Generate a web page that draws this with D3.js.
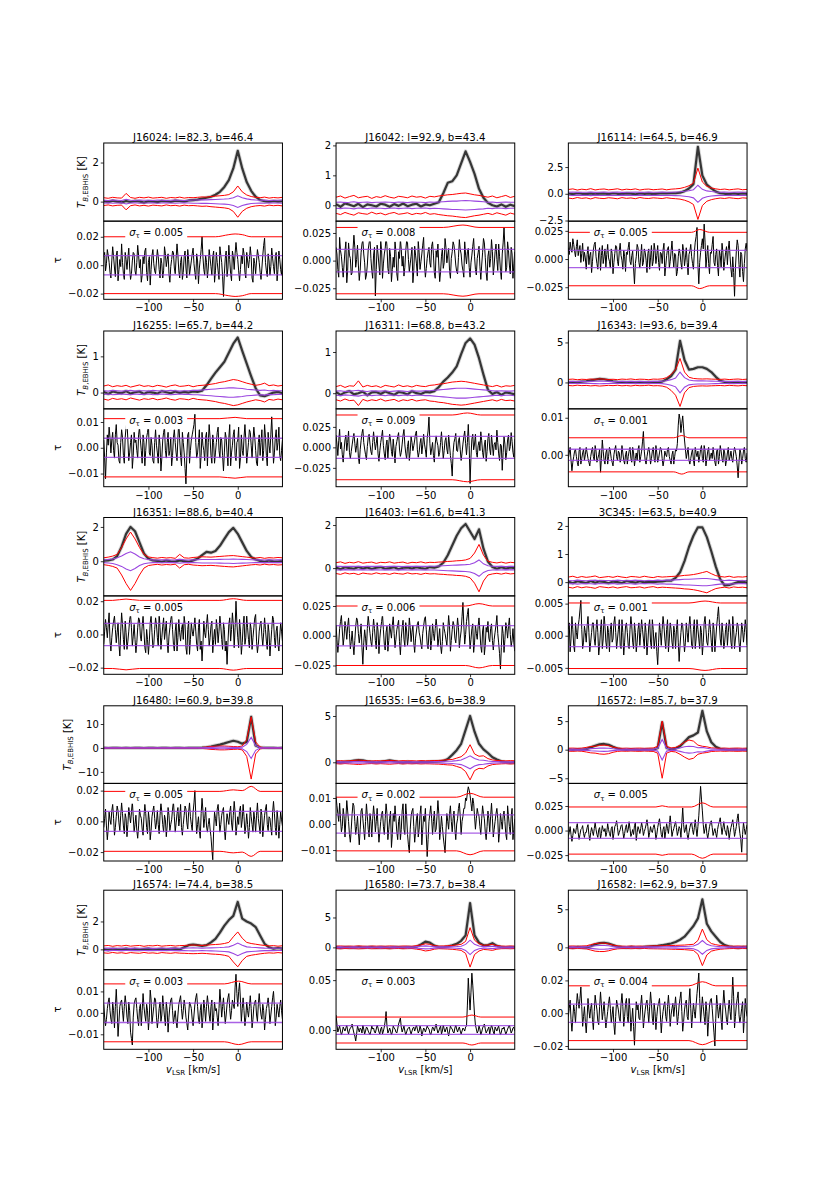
<!DOCTYPE html>
<html>
<head>
<meta charset="utf-8">
<script src="https://cdnjs.cloudflare.com/ajax/libs/d3/7.8.5/d3.min.js"></script>
<style>
body { margin: 0; background: #fff; }
svg text { font-family: "DejaVu Sans", sans-serif; white-space: pre; }
</style>
</head>
<body>
<svg width="830" height="1199"></svg>
<script>
// ---- sources ----
var names = ["J16024","J16042","J16114","J16255","J16311","J16343","J16351","J16403","3C345",
             "J16480","J16535","J16572","J16574","J16580","J16582"];
var glon = [82.3,92.9,64.5,65.7,68.8,93.6,88.6,61.6,63.5,60.9,63.6,85.7,74.4,73.7,62.9];
var glat = [46.4,43.4,46.9,44.2,43.2,39.4,40.4,41.3,40.9,39.8,38.9,37.9,38.5,38.4,37.9];
var sigmaTau = [0.005,0.008,0.005,0.003,0.009,0.001,0.005,0.006,0.001,0.005,0.002,0.005,0.003,0.003,0.004];

// ---- EBHIS emission, channels -150..50 km/s every 5 km/s (K) ----
var tbEmis = [
 [0.02,-0.03,0.05,0.00,-0.04,0.03,-0.02,0.04,0.01,-0.05,0.02,0.00,-0.03,0.04,0.02,-0.02,0.05,0.03,0.00,0.06,0.08,0.10,0.15,0.20,0.25,0.35,0.50,0.75,1.10,1.70,2.60,1.70,1.00,0.55,0.25,0.08,0.02,-0.02,0.03,0.00,0.02],
 [0.04,-0.05,0.06,0.02,-0.03,0.05,-0.06,0.03,0.00,-0.04,0.05,0.02,-0.05,0.04,-0.02,0.06,-0.03,0.02,0.05,-0.04,0.03,0.00,0.05,0.10,0.40,0.75,0.80,1.00,1.40,1.80,1.45,1.05,0.55,0.25,0.08,0.00,-0.04,0.03,-0.05,0.02,-0.03],
 [0.03,-0.04,0.05,0.00,-0.03,0.04,-0.05,0.02,0.03,-0.04,0.05,0.00,-0.03,0.04,0.02,-0.05,0.03,0.00,0.04,-0.03,0.02,0.05,0.03,0.06,0.05,0.10,0.25,0.50,0.90,4.40,1.70,0.85,0.50,0.20,0.05,0.00,-0.04,0.03,-0.02,0.04,0.00],
 [0.02,-0.04,0.03,0.00,-0.02,0.04,-0.03,0.01,0.03,-0.04,0.02,0.00,-0.03,0.04,0.01,-0.02,0.03,-0.01,0.02,0.00,0.03,0.02,0.05,0.20,0.38,0.55,0.70,0.85,1.10,1.35,1.52,1.15,0.80,0.45,0.12,-0.08,-0.10,-0.05,0.00,0.02,-0.02],
 [0.03,-0.04,0.02,0.05,-0.03,0.00,0.04,-0.05,0.02,0.03,-0.02,0.04,0.00,-0.04,0.03,0.01,-0.03,0.05,0.00,-0.02,0.03,0.02,0.05,0.15,0.28,0.38,0.50,0.65,0.95,1.22,1.33,1.18,0.85,0.45,0.08,-0.02,0.03,-0.04,0.02,0.00,-0.03],
 [0.05,0.02,0.05,0.10,0.15,0.25,0.35,0.45,0.40,0.30,0.15,0.08,0.05,0.02,0.04,-0.02,0.03,0.00,0.05,0.02,0.04,0.10,0.40,0.80,1.60,5.20,2.80,1.60,1.70,1.90,1.90,1.70,1.30,0.70,0.20,0.05,0.02,-0.03,0.04,0.00,0.03],
 [0.03,0.05,0.10,0.30,0.85,1.60,2.00,1.75,1.10,0.45,0.15,0.05,0.02,-0.03,0.04,0.00,-0.02,0.05,0.01,-0.04,0.05,0.15,0.35,0.55,0.50,0.60,0.90,1.30,1.70,1.95,1.60,1.10,0.60,0.25,0.10,0.02,-0.03,0.04,0.00,-0.02,0.03],
 [0.03,-0.05,0.04,0.00,-0.03,0.05,-0.02,0.03,-0.04,0.02,0.05,-0.03,0.00,0.04,-0.05,0.02,0.03,-0.02,0.04,0.00,-0.03,0.05,0.02,0.08,0.25,0.60,1.05,1.50,1.85,2.05,1.70,1.35,1.80,0.90,0.30,0.05,-0.03,0.04,-0.02,0.03,0.00],
 [0.02,-0.04,0.03,0.00,-0.03,0.04,-0.02,0.03,0.01,-0.04,0.02,0.00,-0.03,0.04,0.01,-0.02,0.03,-0.01,0.02,0.00,0.02,0.03,0.05,0.05,0.15,0.35,0.75,1.25,1.65,1.95,1.95,1.60,1.10,0.55,0.10,-0.12,-0.10,-0.05,0.00,0.02,-0.02],
 [0.02,-0.02,0.01,0.00,-0.01,0.02,-0.02,0.01,0.00,-0.01,0.02,0.00,-0.02,0.01,0.02,-0.01,0.00,0.02,-0.01,0.01,0.02,0.00,0.10,0.30,0.60,1.00,1.40,1.90,2.50,3.00,2.60,1.80,2.50,13.0,1.00,0.20,0.05,0.00,0.02,-0.01,0.01],
 [0.05,-0.03,0.06,0.10,0.18,0.25,0.20,0.10,0.04,-0.02,0.05,0.12,0.20,0.12,0.03,-0.04,0.05,0.00,-0.03,0.04,0.02,0.05,0.08,0.10,0.15,0.35,0.80,1.30,2.00,3.50,5.00,3.30,2.00,1.40,1.00,0.55,0.30,0.10,0.03,-0.04,0.02],
 [0.03,-0.04,0.05,0.02,0.10,0.40,0.70,0.95,1.00,0.85,0.50,0.20,0.05,-0.03,0.04,0.00,-0.04,0.05,0.02,0.00,0.30,4.80,0.30,0.10,0.20,0.60,1.40,2.20,2.50,3.00,6.80,3.20,1.30,0.50,0.15,0.05,-0.03,0.04,0.00,-0.02,0.03],
 [0.03,-0.05,0.04,0.00,-0.03,0.05,-0.02,0.03,-0.04,0.02,0.05,-0.03,0.00,0.04,-0.02,0.03,0.05,-0.01,0.15,0.30,0.35,0.30,0.25,0.30,0.50,0.75,1.20,1.70,2.10,2.40,3.40,2.20,2.00,1.85,1.60,1.00,0.40,0.15,0.05,0.10,0.05],
 [0.05,-0.08,0.06,0.00,-0.05,0.07,-0.04,0.03,0.06,-0.07,0.04,0.00,-0.06,0.05,0.02,-0.04,0.06,0.00,0.10,0.50,0.95,0.80,0.30,0.05,0.02,0.15,0.35,0.60,1.10,2.00,7.40,2.00,0.80,0.35,0.40,0.70,0.25,0.05,-0.04,0.06,0.00],
 [0.04,-0.06,0.05,0.00,-0.04,0.15,0.40,0.55,0.60,0.50,0.30,0.10,0.02,-0.04,0.05,0.00,-0.03,0.06,0.10,0.15,0.20,0.28,0.38,0.50,0.70,1.00,1.40,2.10,2.80,3.80,6.30,3.10,2.10,1.40,0.70,0.30,0.10,0.03,-0.04,0.05,0.00]
];

// red (wide) and purple (narrow) envelope half widths, same channels (K)
var tbRed = [
 [0.20,0.17,0.22,0.19,0.18,0.42,0.21,0.17,0.22,0.19,0.23,0.18,0.20,0.22,0.17,0.21,0.19,0.23,0.18,0.21,0.20,0.22,0.24,0.23,0.26,0.28,0.30,0.32,0.36,0.50,0.80,0.50,0.34,0.26,0.22,0.20,0.23,0.18,0.21,0.19,0.22],
 [0.27,0.31,0.24,0.29,0.33,0.25,0.28,0.30,0.23,0.29,0.26,0.32,0.27,0.24,0.30,0.28,0.25,0.31,0.27,0.29,0.24,0.30,0.28,0.31,0.33,0.35,0.36,0.38,0.40,0.41,0.38,0.35,0.33,0.30,0.27,0.31,0.25,0.29,0.33,0.26,0.30],
 [0.40,0.46,0.35,0.43,0.38,0.48,0.36,0.42,0.45,0.37,0.41,0.47,0.36,0.43,0.39,0.46,0.35,0.42,0.44,0.38,0.41,0.45,0.37,0.43,0.46,0.50,0.60,0.75,1.00,2.40,1.10,0.70,0.55,0.46,0.40,0.44,0.37,0.42,0.46,0.38,0.41],
 [0.18,0.21,0.16,0.19,0.17,0.20,0.15,0.18,0.21,0.17,0.19,0.16,0.20,0.18,0.15,0.19,0.21,0.17,0.18,0.20,0.16,0.19,0.20,0.21,0.23,0.25,0.28,0.30,0.33,0.36,0.34,0.30,0.26,0.23,0.20,0.22,0.26,0.19,0.21,0.18,0.20],
 [0.16,0.19,0.14,0.18,0.17,0.30,0.15,0.19,0.16,0.18,0.14,0.19,0.17,0.15,0.20,0.16,0.18,0.15,0.19,0.17,0.16,0.19,0.20,0.22,0.23,0.25,0.27,0.28,0.29,0.28,0.26,0.24,0.22,0.20,0.18,0.16,0.19,0.15,0.18,0.17,0.19],
 [0.38,0.42,0.34,0.40,0.37,0.43,0.39,0.45,0.41,0.36,0.40,0.35,0.42,0.38,0.44,0.36,0.41,0.39,0.34,0.42,0.40,0.45,0.60,1.00,1.60,3.00,1.30,0.65,0.50,0.45,0.43,0.45,0.42,0.40,0.38,0.42,0.36,0.40,0.43,0.37,0.41],
 [0.20,0.24,0.30,0.40,0.80,1.30,1.70,1.30,0.80,0.40,0.25,0.21,0.18,0.22,0.19,0.21,0.17,0.40,0.20,0.18,0.22,0.24,0.26,0.25,0.24,0.26,0.28,0.30,0.32,0.33,0.30,0.27,0.24,0.21,0.19,0.22,0.17,0.21,0.19,0.22,0.20],
 [0.25,0.29,0.22,0.27,0.24,0.30,0.23,0.26,0.28,0.22,0.27,0.25,0.29,0.23,0.26,0.28,0.22,0.27,0.25,0.29,0.24,0.27,0.26,0.28,0.29,0.31,0.32,0.34,0.35,0.38,0.45,0.70,1.10,0.60,0.32,0.27,0.24,0.28,0.23,0.27,0.25],
 [0.18,0.21,0.16,0.20,0.17,0.19,0.22,0.16,0.18,0.20,0.17,0.21,0.18,0.16,0.20,0.19,0.17,0.21,0.18,0.16,0.20,0.18,0.19,0.20,0.21,0.22,0.24,0.25,0.27,0.30,0.34,0.38,0.30,0.23,0.20,0.18,0.21,0.17,0.19,0.18,0.20],
 [0.05,0.06,0.04,0.05,0.06,0.05,0.04,0.06,0.05,0.05,0.06,0.04,0.05,0.06,0.05,0.04,0.06,0.05,0.05,0.06,0.08,0.10,0.20,0.40,0.60,0.70,0.80,0.80,0.70,0.60,0.50,0.80,3.50,13.0,2.50,0.40,0.10,0.06,0.05,0.06,0.05],
 [0.15,0.18,0.14,0.17,0.20,0.24,0.20,0.16,0.14,0.18,0.15,0.18,0.21,0.17,0.14,0.18,0.15,0.17,0.14,0.18,0.16,0.17,0.19,0.20,0.24,0.28,0.30,0.45,0.60,1.00,1.90,0.90,0.65,0.70,0.40,0.25,0.20,0.17,0.15,0.18,0.16],
 [0.25,0.28,0.23,0.27,0.40,0.55,0.60,0.75,0.80,0.70,0.45,0.30,0.24,0.27,0.22,0.26,0.28,0.23,0.27,0.30,0.60,5.00,0.60,0.30,0.40,0.80,1.30,1.70,1.50,0.80,0.60,0.50,0.32,0.27,0.24,0.28,0.23,0.26,0.28,0.24,0.27],
 [0.25,0.28,0.22,0.27,0.24,0.29,0.23,0.26,0.28,0.22,0.27,0.25,0.29,0.23,0.26,0.28,0.24,0.27,0.28,0.30,0.31,0.30,0.28,0.30,0.33,0.35,0.37,0.42,0.50,0.90,1.25,0.80,0.50,0.42,0.37,0.32,0.28,0.25,0.27,0.23,0.26],
 [0.20,0.24,0.18,0.22,0.19,0.25,0.21,0.18,0.23,0.20,0.22,0.19,0.24,0.20,0.18,0.23,0.21,0.19,0.30,0.40,0.60,0.50,0.30,0.22,0.24,0.28,0.32,0.40,0.50,1.00,3.30,1.20,0.60,0.35,0.40,0.50,0.30,0.22,0.19,0.23,0.20],
 [0.15,0.18,0.14,0.17,0.20,0.35,0.50,0.55,0.55,0.45,0.30,0.20,0.16,0.14,0.18,0.15,0.17,0.14,0.18,0.19,0.20,0.21,0.22,0.24,0.26,0.28,0.30,0.35,0.40,0.90,2.40,1.00,0.50,0.35,0.25,0.20,0.17,0.15,0.18,0.14,0.17]
];
var tbPurple = [
 [0.07,0.06,0.08,0.07,0.06,0.12,0.07,0.06,0.08,0.07,0.07,0.06,0.08,0.07,0.06,0.07,0.08,0.07,0.06,0.07,0.08,0.08,0.09,0.09,0.10,0.11,0.12,0.13,0.15,0.20,0.30,0.20,0.14,0.10,0.08,0.07,0.08,0.06,0.07,0.07,0.08],
 [0.10,0.11,0.09,0.10,0.12,0.09,0.10,0.11,0.09,0.10,0.10,0.11,0.10,0.09,0.11,0.10,0.09,0.11,0.10,0.10,0.09,0.11,0.10,0.11,0.12,0.13,0.14,0.14,0.15,0.16,0.15,0.14,0.13,0.12,0.10,0.11,0.09,0.10,0.11,0.10,0.10],
 [0.14,0.16,0.13,0.15,0.14,0.17,0.13,0.15,0.16,0.14,0.15,0.16,0.13,0.15,0.14,0.16,0.13,0.15,0.16,0.14,0.15,0.16,0.14,0.15,0.17,0.19,0.23,0.28,0.38,0.80,0.42,0.27,0.21,0.17,0.15,0.16,0.14,0.15,0.16,0.14,0.15],
 [0.05,0.04,0.06,0.05,0.04,0.05,0.06,0.04,0.05,0.05,0.04,0.06,0.05,0.04,0.05,0.06,0.05,0.04,0.05,0.05,0.06,0.06,0.07,0.08,0.09,0.10,0.11,0.12,0.13,0.13,0.12,0.11,0.09,0.08,0.07,0.06,0.07,0.05,0.06,0.05,0.05],
 [0.05,0.06,0.04,0.05,0.06,0.07,0.05,0.04,0.06,0.05,0.05,0.06,0.04,0.05,0.06,0.05,0.04,0.06,0.05,0.05,0.06,0.06,0.07,0.08,0.09,0.10,0.11,0.12,0.12,0.12,0.11,0.10,0.09,0.08,0.07,0.06,0.05,0.06,0.05,0.05,0.06],
 [0.12,0.14,0.11,0.13,0.12,0.14,0.15,0.16,0.15,0.13,0.12,0.11,0.13,0.12,0.14,0.11,0.13,0.12,0.11,0.13,0.13,0.15,0.22,0.35,0.55,1.30,0.60,0.30,0.22,0.20,0.20,0.19,0.17,0.15,0.13,0.14,0.12,0.13,0.14,0.12,0.13],
 [0.08,0.10,0.13,0.20,0.30,0.45,0.55,0.42,0.25,0.15,0.10,0.08,0.07,0.09,0.08,0.07,0.08,0.12,0.08,0.07,0.08,0.09,0.10,0.10,0.10,0.10,0.11,0.12,0.12,0.13,0.12,0.11,0.10,0.09,0.08,0.08,0.07,0.08,0.07,0.08,0.08],
 [0.08,0.09,0.07,0.08,0.09,0.08,0.07,0.09,0.08,0.08,0.09,0.07,0.08,0.09,0.08,0.07,0.09,0.08,0.08,0.09,0.08,0.09,0.09,0.10,0.11,0.12,0.13,0.14,0.15,0.16,0.18,0.25,0.38,0.20,0.11,0.09,0.08,0.09,0.07,0.08,0.08],
 [0.06,0.05,0.07,0.06,0.05,0.06,0.07,0.05,0.06,0.06,0.05,0.07,0.06,0.05,0.06,0.07,0.06,0.05,0.06,0.06,0.07,0.06,0.07,0.07,0.08,0.09,0.10,0.10,0.11,0.12,0.13,0.13,0.11,0.09,0.07,0.06,0.07,0.06,0.06,0.05,0.06],
 [0.02,0.02,0.02,0.02,0.02,0.02,0.02,0.02,0.02,0.02,0.02,0.02,0.02,0.02,0.02,0.02,0.02,0.02,0.02,0.02,0.03,0.04,0.08,0.15,0.25,0.30,0.35,0.35,0.30,0.25,0.22,0.35,1.50,4.40,1.00,0.15,0.04,0.02,0.02,0.02,0.02],
 [0.05,0.06,0.05,0.06,0.07,0.09,0.07,0.06,0.05,0.06,0.05,0.06,0.08,0.06,0.05,0.06,0.05,0.06,0.05,0.06,0.05,0.06,0.07,0.08,0.09,0.11,0.13,0.18,0.25,0.45,0.70,0.40,0.25,0.22,0.14,0.09,0.07,0.06,0.05,0.06,0.05],
 [0.08,0.09,0.08,0.09,0.12,0.18,0.22,0.28,0.30,0.25,0.16,0.10,0.08,0.09,0.08,0.09,0.08,0.09,0.08,0.10,0.25,1.80,0.25,0.12,0.15,0.30,0.50,0.60,0.55,0.35,0.40,0.25,0.12,0.09,0.08,0.09,0.08,0.09,0.08,0.09,0.08],
 [0.08,0.09,0.07,0.08,0.09,0.08,0.07,0.09,0.08,0.08,0.09,0.07,0.08,0.09,0.08,0.07,0.09,0.08,0.09,0.10,0.11,0.10,0.09,0.10,0.11,0.12,0.13,0.15,0.18,0.30,0.45,0.30,0.18,0.15,0.13,0.11,0.09,0.08,0.09,0.08,0.08],
 [0.07,0.08,0.06,0.07,0.08,0.07,0.06,0.08,0.07,0.07,0.08,0.06,0.07,0.08,0.07,0.06,0.08,0.07,0.12,0.18,0.25,0.20,0.12,0.08,0.08,0.09,0.11,0.14,0.20,0.50,1.20,0.50,0.22,0.13,0.15,0.20,0.12,0.08,0.07,0.08,0.07],
 [0.05,0.06,0.05,0.06,0.08,0.14,0.20,0.25,0.25,0.20,0.12,0.07,0.05,0.06,0.05,0.06,0.05,0.06,0.06,0.07,0.07,0.08,0.08,0.09,0.10,0.11,0.12,0.14,0.18,0.40,0.90,0.40,0.20,0.14,0.10,0.08,0.06,0.05,0.06,0.05,0.06]
];
var tbDomain = [[-1.0,3.0],[-0.53,2.08],[-2.56,4.75],[-0.45,1.70],[-0.38,1.51],[-3.3,6.43],[-2.02,2.55],[-1.29,2.35],
                [-0.49,2.30],[-14.8,17.6],[-2.28,6.1],[-5.9,7.68],[-1.46,4.24],[-3.74,9.56],[-2.94,7.5]];
var tbTicks = [[0,2],[0,1,2],[-2.5,0,2.5],[0,1],[0,1],[0,5],[0,2],[0,2],[0,1,2],[-10,0,10],[0,5],[-5,0,5],[0,2],[0,5],[0,5]];
var tbDec = [0,0,1,0,0,0,0,0,0,0,0,0,0,0,0];

// ---- optical depth, channels -150..50 km/s every 1 km/s, in units of 1e-4 ----
var tau1e4 = [
 [60,90,-40,10,110,70,20,-50,-90,30,130,60,-20,-80,70,100,-110,-30,40,-10,150,20,-60,-100,90,40,-30,50,120,-20,-100,-60,30,90,80,-40,-70,20,140,70,
  -20,40,-120,-70,60,10,100,120,-50,-110,20,60,-140,-30,70,110,10,-40,-60,30,110,60,-30,-90,50,10,-90,-40,130,80,-10,40,80,-60,-120,-10,40,100,90,-20,
  -60,50,150,70,-40,-90,20,60,-100,-50,60,100,-20,-90,110,40,-70,-20,30,80,120,10,-50,-100,80,30,-130,-20,40,110,200,60,-30,-70,70,20,-90,-20,110,50,
  -10,-70,60,100,-120,-40,90,20,-40,-100,130,70,20,-80,-220,-60,50,100,-80,-20,140,40,-60,-110,100,60,-30,80,160,90,40,-40,-110,-30,70,10,120,80,-50,-90,
  90,30,-20,40,130,60,-90,-120,50,10,-60,30,110,70,20,-50,-100,-20,70,140,190,20,-40,-80,80,30,-70,-10,120,50,-10,-60,60,90,-110,-30,100,40,-30,-70,50],
 [120,60,-80,-150,210,90,40,-60,-150,-30,90,170,-200,-90,160,50,20,-130,-110,100,230,120,-60,10,140,-40,-180,-90,70,150,190,60,-20,-170,-130,-40,100,160,210,20,
  -90,-160,50,120,-320,-80,140,60,-40,-130,180,90,-160,-30,60,110,220,130,-70,-120,110,40,-190,-80,30,-60,170,80,-120,-180,80,20,200,100,-50,40,-140,-60,90,180,
  160,10,-100,-30,40,120,-200,-90,130,50,-30,-140,180,70,-80,-10,60,140,210,-40,-150,-70,20,80,120,-20,-60,130,170,50,-110,-160,90,30,150,-40,-190,-100,40,110,
  -70,-20,200,120,-20,50,110,-90,-160,20,80,170,140,60,-40,-100,-120,30,190,100,60,-40,-90,-150,170,50,-30,80,110,-60,-150,-20,50,130,200,40,-80,-130,20,70,
  130,-50,-170,-40,70,200,160,30,-110,-180,40,90,-60,20,190,80,-130,-40,80,150,10,-90,150,40,-90,-170,60,160,300,120,-100,-60,170,90,-40,-120,120,60,-160,-30,80],
 [100,40,150,90,60,180,130,70,20,110,170,30,80,120,-30,50,140,-20,60,10,-90,40,110,-50,30,60,-120,-20,80,130,150,20,-40,-90,60,100,-100,30,120,-40,
  20,90,-70,40,130,10,-20,-80,90,50,-130,-30,50,120,110,-20,-60,70,140,30,-10,-90,80,20,-110,60,40,100,150,-20,-50,30,70,-80,-220,-40,20,130,100,-30,
  -80,20,130,-60,-30,90,60,-10,-120,50,90,-90,10,120,-60,-20,140,80,-40,30,120,-30,-100,60,50,-40,80,140,-150,-60,30,90,110,-80,-20,70,160,20,-70,50,
  40,-150,-110,20,90,50,-30,-90,130,70,-60,10,100,-30,-140,40,70,130,20,-40,-90,60,150,200,280,-50,-220,-30,60,120,180,90,310,150,-80,20,120,-40,-130,60,
  50,130,200,-30,-60,40,90,-60,-150,80,30,-70,140,60,-100,-20,60,110,-50,90,160,20,-90,-160,20,-120,-330,-80,70,170,120,-50,-160,60,40,-110,-200,-40,90,140,80],
 [30,-40,-120,-20,50,10,80,40,-20,30,60,-10,-40,50,90,20,10,-50,-60,20,70,40,-30,-60,40,80,100,30,-50,-20,20,50,-80,-30,60,20,30,-10,-40,50,
  80,30,-10,-60,50,20,-70,-10,40,60,90,-20,-30,40,10,-50,-60,20,70,10,-20,-60,50,10,-90,-40,30,60,80,-10,-40,20,60,-30,-10,40,-70,-30,40,70,
  20,-20,-50,40,100,30,-30,-70,60,20,-20,-80,-140,-30,50,60,-60,-10,30,50,70,90,130,20,-40,-20,20,70,-80,-30,60,10,-10,-50,40,60,-70,20,90,40,
  -30,-60,50,20,-60,-20,20,60,80,-10,-40,40,30,-30,-90,-20,60,40,-20,-70,40,90,-70,-20,10,50,70,-30,-50,20,30,80,-80,-40,50,-10,-30,40,90,30,
  -60,-20,20,70,60,10,-40,30,80,40,-10,-60,-70,20,50,-30,20,70,-50,-10,90,40,-30,-70,60,10,-20,50,120,30,-60,-20,40,70,-10,20,80,-30,-50,-10,30],
 [150,40,-100,80,220,-20,60,-90,-180,-30,90,150,-40,60,200,-60,-140,-50,30,110,170,50,-60,20,110,-120,-200,-30,80,170,230,60,-20,-90,-150,10,120,160,40,-50,
  -90,60,190,70,-30,50,140,-80,-170,-40,60,130,210,20,-80,-150,20,90,-130,40,160,90,-50,-110,100,-40,-190,10,70,130,180,-20,-110,-60,40,150,220,30,-70,-140,
  10,80,-160,-50,130,60,-40,20,90,170,200,-30,-120,-60,50,110,-80,30,160,40,-30,-120,110,200,370,50,-90,-20,60,-100,-180,40,140,70,20,-110,-60,60,190,20,
  -140,-40,80,120,-20,-80,150,30,-100,-200,-350,-60,60,110,170,-40,-50,80,120,-30,-160,-70,40,130,200,50,-90,60,280,20,-440,-120,100,160,-30,40,160,-60,-120,20,
  70,-40,190,80,-60,-130,30,90,-170,-50,110,170,-20,-90,150,30,-100,40,60,-30,210,60,-80,-160,40,20,-280,-60,130,40,-150,-60,90,150,-40,10,180,70,-60,-120,100],
 [-10,5,20,-15,-43,-20,-5,10,15,-5,-20,-30,10,20,-25,-10,5,15,-15,0,20,5,-10,-20,-30,-5,10,20,-5,-15,25,10,-20,-10,0,15,-47,-10,40,10,
  -15,-25,5,15,-25,-5,20,10,-10,-20,-30,0,15,25,-5,-15,10,5,-20,-10,25,5,-15,-25,0,10,-25,-5,10,20,-10,-20,20,5,-30,-10,5,-15,15,25,
  -20,-5,10,35,63,10,-15,-25,-5,10,20,5,-25,-10,10,20,-10,-20,25,5,-20,-10,5,20,15,-10,-30,-15,10,0,-5,15,20,-5,-15,-25,0,10,-25,-5,
  15,10,30,80,110,95,60,85,105,70,40,15,-10,5,20,-15,-25,-10,5,15,-15,-30,20,5,-5,10,-20,-5,15,25,-10,-20,25,10,-30,-10,10,20,-15,-5,
  5,-10,20,0,-20,-30,10,15,-25,-5,25,10,-10,-20,15,5,-30,-15,5,20,-15,-5,10,-10,-20,5,20,10,-5,-30,-62,-20,15,5,-25,-10,10,20,-10,-20,5],
 [-60,20,90,40,-20,60,130,-40,-100,-20,40,80,110,30,-50,10,70,-60,-130,20,130,60,-30,-90,80,10,-90,-40,20,90,120,40,-70,-10,60,-30,-110,-50,40,100,
  90,-10,-40,50,110,20,-80,-110,30,-30,-120,-40,70,110,10,-80,-60,30,100,60,-20,-70,130,40,-90,-20,50,100,-30,20,80,-50,-110,-10,40,90,120,30,-60,-100,
  20,70,-100,-20,90,10,-40,30,60,-30,110,60,-80,-120,30,80,-120,-30,70,20,-10,40,100,20,-60,-100,40,90,-90,-40,-160,-60,80,10,-20,60,120,30,-70,-20,
  50,80,-110,-30,30,-60,90,40,-50,20,110,50,-30,-90,70,30,-100,-40,-180,-50,60,100,-40,30,130,60,-80,40,200,70,-20,-80,90,20,-120,-50,50,110,-60,-20,
  110,40,-30,-80,70,30,-90,-20,40,100,120,-40,-110,-60,20,60,80,-10,-70,10,100,30,-40,-90,60,10,-130,-50,30,110,90,-20,-80,20,50,-60,-100,-10,70,20,-40],
 [90,-30,-140,-60,60,120,170,40,-80,-10,120,60,-30,80,150,20,-110,-50,40,-70,-160,-40,80,150,130,20,-60,10,100,-100,-240,-60,50,-20,-120,60,170,90,20,-50,
  -90,30,140,60,-40,-110,110,40,-150,-20,60,120,180,50,-70,-120,30,80,-130,-40,100,40,-20,90,160,20,-100,-30,50,90,130,-50,-160,-20,70,130,-30,-90,110,40,
  -80,-10,150,70,-50,30,90,-60,-140,-20,40,100,120,30,-10,-70,-110,20,80,140,160,50,-70,-110,30,80,-120,-40,100,20,-40,60,140,70,-90,-20,60,-80,-150,-50,
  110,60,20,-30,-80,40,170,80,-130,-40,50,120,90,-20,-60,40,150,70,-100,-20,40,160,280,90,-70,10,120,180,230,40,-110,-30,60,100,-140,-60,90,20,-30,80,
  150,40,-90,-140,40,90,-160,-80,70,30,120,-20,-50,60,100,-40,-120,-30,30,90,170,20,-60,-150,-280,-100,80,20,-140,-30,110,60,-20,80,150,10,-90,-40,60,-60,-130],
 [10,20,-25,-5,30,10,-15,-25,20,5,-5,15,25,40,55,10,-20,-10,15,5,-10,15,30,5,-25,-10,5,20,20,-5,-15,10,25,5,-30,-15,10,25,-20,-5,
  35,15,-10,-20,15,5,-25,10,20,-10,-5,20,30,5,-20,-5,10,25,-15,-20,25,5,-30,-10,15,20,5,-15,-20,10,30,15,-10,-20,20,5,-25,-10,10,20,
  -15,5,25,10,-5,-20,20,5,-30,-10,15,25,-10,-20,25,10,-20,-5,5,-25,-45,-10,20,5,-15,10,30,15,-5,-20,10,25,-25,-5,20,10,-10,-20,15,5,
  -20,10,25,-10,-40,-15,5,20,15,-5,-25,-10,20,5,-10,15,30,10,-15,-20,10,25,-20,-5,25,10,-5,-20,15,5,-30,-10,20,30,10,-10,-15,5,25,10,
  -10,-25,20,10,-25,-5,15,30,45,20,-5,-15,20,5,-20,-10,10,20,-15,5,25,15,-10,-20,30,10,-20,-5,5,20,15,-10,-25,-5,20,10,-10,5,25,10,-15],
 [-40,20,80,-30,-120,-50,60,10,-20,70,110,20,-90,-40,30,100,70,-10,-60,40,120,50,-30,-80,50,20,-100,-20,90,40,-10,60,130,30,-70,-20,40,-60,-110,-30,
  80,40,20,-50,-90,30,110,50,-40,-80,60,10,-120,-60,30,70,100,20,-50,-10,70,-20,-80,40,120,60,-20,-70,40,10,-100,-30,90,40,-60,-20,10,80,130,30,
  -70,-10,50,90,-30,20,110,-40,-90,-20,40,100,80,-10,-50,60,120,30,-20,-60,60,120,200,40,-80,-20,30,-60,-110,50,150,70,-40,20,90,-30,-70,-20,20,-50,
  -100,-180,-250,-60,60,20,-30,80,110,30,-70,-20,40,70,90,-50,-120,-30,50,10,-20,60,100,-10,-60,40,130,60,-90,-30,30,-20,70,100,-40,10,110,30,-80,-30,
  50,-20,-110,-40,90,30,-20,-70,60,10,-70,40,120,20,-30,-80,80,40,-100,-30,40,80,110,-20,-60,30,20,-40,-90,60,130,50,-40,-90,70,10,-110,-20,60,10,-30],
 [105,70,40,10,80,20,-30,-10,60,30,-50,20,90,50,10,-40,-70,-20,40,80,70,10,-40,-10,30,-30,-80,-20,50,60,20,-20,-60,10,80,30,-20,-50,40,10,
  -50,20,70,30,-30,10,60,-10,-70,-30,10,40,50,-10,-40,20,80,40,-60,-20,20,50,-90,-40,40,10,70,20,-30,-60,10,30,-60,-20,50,80,-20,-40,80,30,
  -40,-80,-110,-20,30,50,60,-10,-70,-30,20,40,-50,-20,40,70,-80,-20,30,10,60,-40,-125,-60,10,40,70,20,-40,10,50,-30,-20,30,90,40,-60,-20,30,-10,
  -50,-80,-110,-30,40,10,-20,40,70,10,-30,20,50,-20,-60,0,20,60,80,30,-40,10,30,60,60,100,90,120,143,130,110,80,50,100,80,30,-20,20,60,40,
  30,-10,-40,20,70,40,20,-30,-60,-10,50,20,-30,30,80,20,-50,-20,10,40,60,20,-70,-30,40,10,-20,30,50,10,-40,-60,70,30,-10,-40,30,60,-60,-20,20],
 [-60,-20,40,-40,-110,-50,20,-10,-30,30,70,-20,-90,-40,10,20,50,-30,-70,-20,-20,30,60,-40,-100,-20,30,-10,-50,20,80,10,-40,-70,10,30,-80,-30,50,10,
  -10,20,-60,-20,70,10,-30,-60,20,40,-90,-30,40,60,100,30,-50,-20,10,50,60,-10,-80,-30,30,60,-20,10,90,20,-60,-30,10,-40,50,80,-100,-20,40,10,
  -30,20,80,30,-50,-10,20,60,110,40,-70,-20,40,-10,-20,30,60,10,-90,-40,30,80,120,40,-40,-70,10,40,-80,-10,70,20,-30,60,150,50,-60,-10,20,60,
  90,30,-50,-10,40,20,-70,80,230,60,-20,10,60,-40,-90,-20,30,70,80,10,-40,30,110,20,-60,40,150,300,450,320,200,60,-30,20,70,-30,-80,-20,40,80,
  100,30,-50,-10,20,-30,-70,10,60,90,130,40,-40,30,90,10,-20,-50,50,10,-90,-20,30,70,110,30,-60,-10,40,120,170,50,-30,-90,-220,-40,80,20,-40,10,60],
 [40,-20,-60,-30,20,50,70,10,-30,-50,50,10,-70,30,110,20,-110,-40,30,50,60,10,-40,30,80,40,-20,-50,50,10,-90,-120,-150,-20,40,60,70,20,-30,-60,
  20,40,-60,10,90,30,-10,-40,40,10,-80,-20,110,60,-50,-10,30,70,60,-20,-70,-30,20,50,-40,-10,80,30,-20,-60,50,10,-90,-20,30,60,70,10,-50,-20,
  10,-40,-70,-10,40,60,80,20,-30,10,60,30,-20,-50,-80,-10,50,40,20,-30,-60,-10,40,70,90,30,-30,-50,10,40,-70,-20,60,20,-40,30,80,40,-10,-40,
  30,60,-80,-20,50,10,20,-20,-60,20,110,50,-20,30,70,10,-50,-10,40,70,90,20,-30,10,60,40,20,120,180,90,30,100,140,60,-40,20,70,10,-60,-20,
  50,10,-20,30,80,20,-70,-30,30,50,60,-10,-40,40,90,30,-10,-30,40,10,-80,-30,20,40,70,20,-50,-10,30,70,100,30,-60,-20,40,10,-20,30,60,10,-30],
 [150,60,-20,10,40,-10,-50,-20,30,10,-10,20,50,-10,-40,0,20,30,60,10,-30,-60,-110,-40,40,10,-20,20,10,-30,50,10,-40,-10,30,20,-10,-30,-50,-10,
  40,10,20,-20,-30,10,50,20,-20,-40,10,30,-40,-10,30,90,185,40,-30,-10,20,-10,-50,-20,40,20,10,-20,-30,10,60,90,120,30,-20,10,40,-10,-50,-20,
  10,20,30,-10,-40,-10,20,30,-10,20,50,10,-30,-10,40,10,-60,-20,20,10,-20,10,40,20,10,-30,-50,-10,30,20,-10,30,60,10,-30,-10,20,40,-40,-10,
  50,10,-20,10,30,-20,-60,-10,40,20,10,-20,-30,20,50,10,-20,10,30,-10,-40,-10,20,10,-10,30,40,250,520,350,200,380,570,450,300,150,50,10,-30,-10,
  40,10,-50,-20,20,40,60,10,-30,-10,10,30,-40,10,50,20,-20,-40,30,10,-10,20,40,-10,-50,-20,20,10,30,-10,-40,-20,10,30,50,10,-30,-10,20,30,-10],
 [-20,30,80,-40,-110,-30,50,10,-60,40,120,70,30,90,160,40,-80,-20,40,-50,-120,-30,90,20,-30,30,60,-40,-100,10,110,60,20,-50,-70,40,130,50,-40,10,
  70,-20,-90,-40,10,60,100,30,-60,-10,40,-70,-130,-20,80,50,20,-30,-50,60,120,40,-80,-20,60,90,-20,-60,90,20,-110,-40,30,-80,-195,-60,70,20,50,-30,
  -40,50,110,20,-90,-30,20,60,80,10,-60,40,130,60,-30,-70,60,10,-100,-20,40,60,90,-10,-120,-40,10,50,70,-20,-50,40,110,30,-80,-10,30,60,-20,40,
  100,20,-70,-20,50,90,130,10,-110,-50,20,60,80,-20,-40,70,150,30,-90,-10,60,10,-30,50,120,180,245,90,-60,20,100,40,-20,-70,70,10,-140,-40,50,80,
  90,30,-50,-120,-200,-30,110,40,-30,20,60,-40,-100,50,140,60,20,-40,-70,20,80,10,-40,90,220,100,-90,-20,50,90,130,-10,-60,-20,30,70,-120,-30,90,20,-20]
];
// tau envelopes (1e-4): red as [v, half width] knots, purple constant half width
var tauRedKnots = [
 [[-150,200],[-25,200],[-10,215],[-3,220],[5,215],[15,200],[50,200]],
 [[-150,300],[-30,300],[-8,322],[10,300],[50,300]],
 [[-150,237],[-12,237],[-3,262],[8,237],[50,237]],
 [[-150,113],[-20,113],[-3,118],[10,113],[50,113]],
 [[-150,395],[-20,395],[-3,420],[12,395],[50,395]],
 [[-150,46],[-32,46],[-23,52],[-15,46],[50,46]],
 [[-150,205],[-140,205],[-125,213],[-110,205],[-20,205],[-5,215],[10,205],[50,205]],
 [[-150,250],[-5,250],[10,270],[25,250],[50,250]],
 [[-150,51],[-15,51],[3,54],[20,51],[50,51]],
 [[-150,195],[-20,195],[-5,205],[5,200],[15,228],[25,195],[50,195]],
 [[-150,103],[-15,103],[0,118],[15,103],[50,103]],
 [[-150,240],[-52,240],[-45,252],[-38,240],[-12,240],[0,282],[12,240],[50,240]],
 [[-150,135],[-15,135],[1,148],[15,135],[50,135]],
 [[-150,130],[-8,130],[2,150],[12,130],[50,130]],
 [[-150,167],[-15,167],[0,192],[15,167],[50,167]]
];
var tauPurple1e4 = [68,102,76,37,135,15,67,85,17,65,35,80,45,44,56];
var tauDomain = [[-0.024,0.031],[-0.035,0.0357],[-0.0357,0.0336],[-0.0151,0.0151],[-0.048,0.047],[-0.0086,0.0124],
                 [-0.024,0.0232],[-0.0324,0.0335],[-0.006,0.0062],[-0.0258,0.0247],[-0.0142,0.0156],[-0.031,0.048],
                 [-0.017,0.0201],[-0.0193,0.0604],[-0.022,0.0265]];
var tauTicks = [[-0.02,0,0.02],[-0.025,0,0.025],[-0.025,0,0.025],[-0.01,0,0.01],[-0.025,0,0.025],[0,0.01],
                [-0.02,0,0.02],[-0.025,0,0.025],[-0.005,0,0.005],[-0.02,0,0.02],[-0.01,0,0.01],[-0.025,0,0.025],
                [-0.01,0,0.01],[0,0.05],[-0.02,0,0.02]];
var tauDec = [2,3,3,2,3,2,2,3,3,2,2,3,2,2,2];
var velTicks = [-100,-50,0];

// ---- layout ----
var svg = d3.select("svg");
var left0 = 103.75, colW = 178.7, colStep = 232.3;
var rowTop = [143, 331, 517.5, 705.8, 890.2],
    rowBot = [299.3, 486.7, 674.3, 861, 1049.3];
var red = "#ff0000", purple = "#9a45e0";
var tickFont = 10;

var emisVel = d3.range(-150, 51, 5),
    tauVel = d3.range(-150, 51, 1);
var x = d3.scaleLinear().domain([-150, 50]).range([0, colW]);

function styleAxis(g) {
  g.select(".domain").remove();
  g.attr("font-family", "DejaVu Sans").attr("font-size", tickFont);
  g.selectAll("line").attr("stroke", "#000").attr("stroke-width", 0.8);
  g.selectAll("text").attr("fill", "#000");
}

function frame(g, h) {
  g.append("rect").attr("width", colW).attr("height", h)
    .attr("fill", "none").attr("stroke", "#000").attr("stroke-width", 1);
}

names.forEach(function(name, k) {
  var col = k % 3, row = Math.floor(k / 3);
  var px = left0 + col * colStep,
      yTop = rowTop[row], yBot = rowBot[row], yMid = (yTop + yBot) / 2;
  var hA = yMid - yTop, hB = yBot - yMid;

  // title
  svg.append("text")
      .attr("x", px + colW / 2).attr("y", yTop - 1.8)
      .attr("text-anchor", "middle").attr("font-size", 10.2)
      .text(name + ": l=" + d3.format(".1f")(glon[k]) + ", b=" + d3.format(".1f")(glat[k]));

  // ---------- emission panel ----------
  var gA = svg.append("g").attr("transform", "translate(" + px + "," + yTop + ")");
  var yA = d3.scaleLinear().domain(tbDomain[k]).range([hA, 0]);
  gA.append("clipPath").attr("id", "ca" + k)
    .append("rect").attr("width", colW).attr("height", hA);
  var pa = gA.append("g").attr("clip-path", "url(#ca" + k + ")");

  var lineA = d3.line()
      .x(function(d, i) { return x(emisVel[i]); })
      .y(function(d) { return yA(d); });

  pa.append("path").datum(tbEmis[k]).attr("d", lineA)             // grey spread of spectra
      .attr("fill", "none").attr("stroke", "#777").attr("stroke-width", 4)
      .attr("stroke-opacity", 0.3).attr("stroke-linejoin", "round");
  pa.append("path").datum(tbEmis[k]).attr("d", lineA)
      .attr("fill", "none").attr("stroke", "#1a1a1a").attr("stroke-width", 2.2)
      .attr("stroke-opacity", 0.85).attr("stroke-linejoin", "round");

  [1, -1].forEach(function(s) {
    pa.append("path").datum(tbRed[k].map(function(v) { return s * v; })).attr("d", lineA)
        .attr("fill", "none").attr("stroke", red).attr("stroke-width", 1);
  });
  [1, -1].forEach(function(s) {
    pa.append("path").datum(tbPurple[k].map(function(v) { return s * v; })).attr("d", lineA)
        .attr("fill", "none").attr("stroke", purple).attr("stroke-width", 1.1);
  });

  var axA = gA.append("g")
      .call(d3.axisLeft(yA).tickValues(tbTicks[k]).tickFormat(d3.format("." + tbDec[k] + "f"))
            .tickSize(3).tickPadding(2))
      .call(styleAxis);
  frame(gA, hA);

  // ---------- optical depth panel ----------
  var gB = svg.append("g").attr("transform", "translate(" + px + "," + yMid + ")");
  var yB = d3.scaleLinear().domain(tauDomain[k]).range([hB, 0]);
  gB.append("clipPath").attr("id", "cb" + k)
    .append("rect").attr("width", colW).attr("height", hB);
  var pb = gB.append("g").attr("clip-path", "url(#cb" + k + ")");

  pb.append("path").datum(tau1e4[k])
      .attr("d", d3.line()
          .x(function(d, i) { return x(tauVel[i]); })
          .y(function(d) { return yB(d * 1e-4); }))
      .attr("fill", "none").attr("stroke", "#000").attr("stroke-width", 1)
      .attr("stroke-linejoin", "round");

  [1, -1].forEach(function(s) {
    pb.append("path").datum(tauRedKnots[k])
        .attr("d", d3.line().curve(d3.curveMonotoneX)
            .x(function(d) { return x(d[0]); })
            .y(function(d) { return yB(s * d[1] * 1e-4); }))
        .attr("fill", "none").attr("stroke", red).attr("stroke-width", 1);
    pb.append("line")
        .attr("x1", 0).attr("x2", colW)
        .attr("y1", yB(s * tauPurple1e4[k] * 1e-4)).attr("y2", yB(s * tauPurple1e4[k] * 1e-4))
        .attr("stroke", purple).attr("stroke-width", 1.3).attr("stroke-opacity", 0.85);
  });

  // sigma label with white box
  var lab = gB.append("text").attr("x", 25.5).attr("y", 15).attr("font-size", 10);
  lab.append("tspan").attr("font-style", "italic").text("σ");
  lab.append("tspan").attr("font-size", 7).attr("dy", 2.3).text("τ");
  lab.append("tspan").attr("dy", -2.3).text(" = " + d3.format(".3f")(sigmaTau[k]));
  var bb = lab.node().getBBox();
  gB.insert("rect", function() { return lab.node(); })
      .attr("x", bb.x - 4).attr("y", bb.y - 1)
      .attr("width", bb.width + 8).attr("height", bb.height + 2)
      .attr("fill", "#fff");

  var axB = gB.append("g")
      .call(d3.axisLeft(yB).tickValues(tauTicks[k]).tickFormat(d3.format("." + tauDec[k] + "f"))
            .tickSize(3).tickPadding(2))
      .call(styleAxis);
  gB.append("g").attr("transform", "translate(0," + hB + ")")
      .call(d3.axisBottom(x).tickValues(velTicks).tickFormat(d3.format("d"))
            .tickSize(3).tickPadding(2))
      .call(styleAxis);
  frame(gB, hB);

  // y labels on the first column
  if (col === 0) {
    var ba = axA.node().getBBox();
    var ta = svg.append("text")
        .attr("transform", "translate(" + (px + ba.x - 7) + "," + (yTop + hA / 2) + ") rotate(-90)")
        .attr("text-anchor", "middle").attr("font-size", 10);
    ta.append("tspan").attr("font-style", "italic").text("T");
    ta.append("tspan").attr("font-style", "italic").attr("font-size", 7).attr("dy", 2.5).text("B");
    ta.append("tspan").attr("font-size", 7).text(",EBHIS");
    ta.append("tspan").attr("dy", -2.5).text(" [K]");

    var bbB = axB.node().getBBox();
    svg.append("text")
        .attr("transform", "translate(" + (px + bbB.x - 7) + "," + (yMid + hB / 2) + ") rotate(-90)")
        .attr("text-anchor", "middle").attr("font-size", 10)
        .text("τ");
  }

  // x label on the last row
  if (row === 4) {
    var tx = svg.append("text")
        .attr("x", px + colW / 2).attr("y", yBot + 23.5)
        .attr("text-anchor", "middle").attr("font-size", 10);
    tx.append("tspan").attr("font-style", "italic").text("v");
    tx.append("tspan").attr("font-size", 7).attr("dy", 2.3).text("LSR");
    tx.append("tspan").attr("dy", -2.3).text(" [km/s]");
  }
});
</script>
</body>
</html>
